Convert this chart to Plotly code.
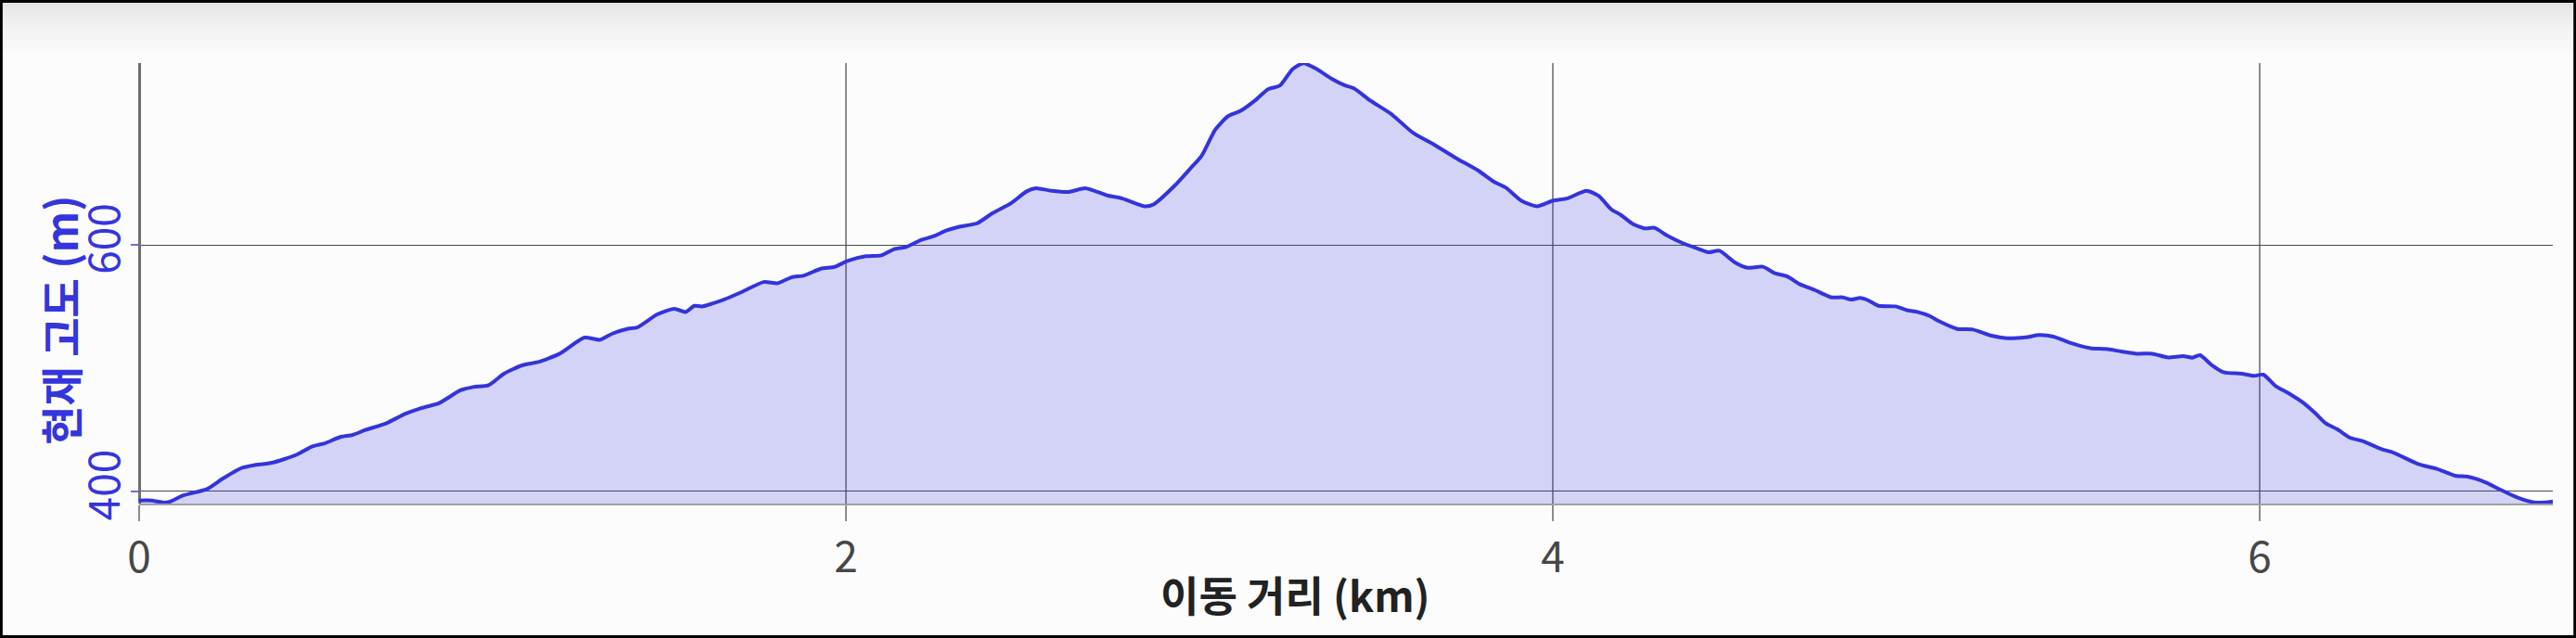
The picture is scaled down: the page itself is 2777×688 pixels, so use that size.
import plotly.graph_objects as go

# elevation profile (distance in km, elevation in m)
dist_km = [
    0.000, 0.035, 0.070, 0.087, 0.122, 0.192, 0.236, 0.289, 0.324, 0.376, 0.446, 0.490, 0.525,
    0.569, 0.604, 0.638, 0.700, 0.752, 0.796, 0.849, 0.910, 0.945, 0.989, 1.032, 1.085, 1.129,
    1.190, 1.260, 1.304, 1.339, 1.383, 1.409, 1.466, 1.514, 1.547, 1.571, 1.592, 1.654, 1.706,
    1.767, 1.806, 1.846, 1.881, 1.929, 1.968, 2.004, 2.056, 2.100, 2.135, 2.170, 2.213, 2.248, 2.283,
    2.318, 2.371, 2.415, 2.467, 2.511, 2.537, 2.581, 2.629, 2.677, 2.739, 2.782, 2.844, 2.870, 2.931,
    2.975, 3.006, 3.045, 3.080, 3.115, 3.158, 3.193, 3.228, 3.263, 3.294, 3.333, 3.373, 3.412, 3.438,
    3.482, 3.543, 3.604, 3.666, 3.727, 3.788, 3.832, 3.867, 3.911, 3.955, 3.999, 4.042, 4.095, 4.130,
    4.165, 4.191, 4.226, 4.261, 4.287, 4.322, 4.366, 4.410, 4.440, 4.471, 4.515, 4.550, 4.594,
    4.628, 4.663, 4.698, 4.742, 4.786, 4.821, 4.843, 4.869, 4.891, 4.921, 4.969, 5.004, 5.031, 5.066,
    5.092, 5.144, 5.188, 5.241, 5.284, 5.337, 5.376, 5.416, 5.459, 5.521, 5.564, 5.608, 5.652, 5.696, 5.739,
    5.783, 5.809, 5.831, 5.862, 5.897, 5.949, 5.984, 6.010, 6.045, 6.080, 6.124, 6.159, 6.186, 6.220,
    6.255, 6.291, 6.343, 6.378, 6.448, 6.501, 6.553, 6.588, 6.640, 6.675, 6.728, 6.776, 6.807, 6.829,
]
elev_m = [
    392.7, 392.7, 391.0, 391.7, 396.5, 402.0, 410.3, 419.0, 421.3, 423.3, 429.9, 436.6, 439.1,
    444.2, 445.9, 449.7, 455.5, 463.0, 467.5, 471.8, 482.3, 484.8, 486.3, 495.6, 502.6, 505.1,
    511.9, 525.0, 523.2, 528.2, 532.2, 533.2, 543.8, 548.3, 545.8, 550.8, 550.3, 555.8, 562.1,
    570.1, 569.1, 573.9, 575.4, 580.9, 582.4, 587.2, 591.0, 591.7, 596.7, 598.5, 604.3, 607.3, 611.8,
    614.8, 617.8, 626.1, 634.1, 643.7, 646.2, 644.2, 643.2, 646.2, 640.4, 637.9, 631.6, 633.1, 648.7,
    662.5, 672.5, 693.9, 704.6, 708.9, 717.7, 726.5, 729.7, 742.8, 747.8, 742.8, 735.3, 729.7, 727.2,
    717.7, 706.4, 691.3, 681.3, 670.5, 660.7, 651.7, 646.7, 636.1, 631.6, 636.1, 638.1, 644.2, 639.9,
    629.1, 624.8, 617.3, 613.6, 614.1, 608.0, 601.8, 597.2, 594.2, 595.5, 586.0, 581.7, 582.5,
    577.2, 574.6, 568.4, 563.4, 557.8, 557.6, 555.8, 557.1, 555.3, 550.8, 550.3, 547.0, 545.8, 542.5,
    538.3, 532.0, 531.5, 526.5, 524.5, 525.2, 527.0, 525.8, 521.2, 516.4, 515.7, 513.7, 511.9, 511.9, 508.9,
    509.9, 508.7, 510.7, 503.1, 496.9, 495.6, 493.9, 494.9, 485.6, 480.0, 471.8, 463.0, 455.5, 450.4,
    443.7, 440.9, 434.6, 431.6, 422.3, 418.3, 412.8, 412.0, 407.3, 402.3, 395.2, 391.2, 391.2, 392.0,
]

x_ticks = [0, 2, 4, 6]
y_ticks = [400, 600]
x_title = "이동 거리 (km)"
y_title = "현재 고도 (m)"

FONT = "Noto Sans CJK KR"
BLUE = "#3535dd"

fig = go.Figure(
    go.Scatter(
        x=dist_km,
        y=elev_m,
        mode="lines",
        line=dict(color="#3434dc", width=4, shape="spline", smoothing=0.6),
        fill="tozeroy",
        fillcolor="rgba(51,51,230,0.2)",
        hoverinfo="skip",
    )
)

fig.update_layout(
    width=2777,
    height=688,
    margin=dict(l=150, r=25, t=68, b=145, pad=0),
    paper_bgcolor="#fcfcfc",
    plot_bgcolor="#fcfcfc",
    showlegend=False,
    font=dict(family=FONT),
)

fig.update_xaxes(
    range=[0, 6.829],
    tickvals=x_ticks,
    showgrid=True,
    gridcolor="#8c8c8c",
    gridwidth=2,
    zeroline=True,
    zerolinecolor="#6e6e6e",
    zerolinewidth=3,
    showline=True,
    linecolor="#a0a0a0",
    linewidth=2,
    ticks="outside",
    ticklen=17,
    tickwidth=2,
    tickcolor="#8c8c8c",
    tickfont=dict(size=46, color="#474747"),
)

fig.update_yaxes(
    range=[390.2, 747.9],
    tickvals=y_ticks,
    showgrid=True,
    gridcolor="#4a4a4a",
    gridwidth=1.3,
    zeroline=False,
    ticks="outside",
    ticklen=8,
    tickwidth=1.5,
    tickcolor="#6a6ae6",
    tickangle=-90,
    ticklabelstandoff=-6,
    tickfont=dict(size=46, color=BLUE),
)

# axis titles placed as annotations: both sit a bit off-centre in the original
fig.add_annotation(
    text=x_title,
    x=0.479,
    y=-0.206,
    xref="paper",
    yref="paper",
    showarrow=False,
    xanchor="center",
    yanchor="middle",
    font=dict(size=45, color="#222222", weight="bold"),
)
fig.add_annotation(
    text=y_title,
    x=-0.0331,
    y=0.417,
    xref="paper",
    yref="paper",
    textangle=-90,
    showarrow=False,
    xanchor="center",
    yanchor="middle",
    font=dict(size=46, color=BLUE, weight="bold"),
)

# window chrome: grey fade along the top and a black frame
for i in range(12):
    g = int(229 + 23 * (i / 11) ** 0.7)
    fig.add_shape(
        type="rect",
        xref="paper",
        yref="paper",
        x0=-0.0577,
        x1=1.0097,
        y0=(543 - (3 + 5 * (i + 1))) / 475,
        y1=(543 - (3 + 5 * i)) / 475,
        fillcolor=f"rgb({g},{g},{g})",
        line_width=0,
        layer="below",
    )
fig.add_shape(
    type="rect",
    xref="paper",
    yref="paper",
    x0=-0.0577,
    x1=1.0097,
    y0=-0.3053,
    y1=1.1432,
    line=dict(color="black", width=6),
    layer="above",
)

fig.write_html(
    "out.html",
    config={"displayModeBar": False},
    post_script="document.body.style.margin='0';",
)
